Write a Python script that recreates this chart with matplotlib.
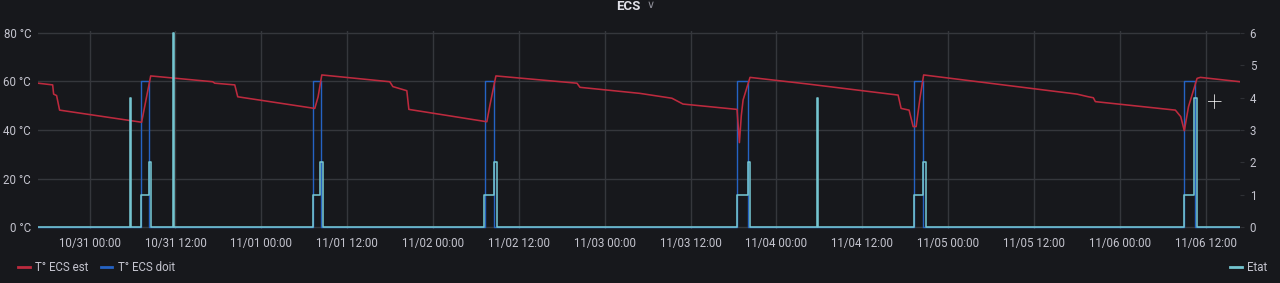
import pandas as pd
import matplotlib
matplotlib.use("Agg")
import matplotlib.pyplot as plt
import matplotlib.dates as mdates
from matplotlib.lines import Line2D

YEAR = "2022/"

# T° ECS est (measured temperature, °C)
est_times = ["10/30 16:47", "10/30 18:50", "10/30 18:58", "10/30 19:23", "10/30 19:48",
             "10/31 07:16", "10/31 07:33", "10/31 08:32", "10/31 17:12", "10/31 17:29",
             "10/31 20:17", "10/31 20:42", "11/01 07:28", "11/01 07:56", "11/01 08:27",
             "11/01 17:57", "11/01 18:23", "11/01 20:20", "11/01 20:37", "11/02 07:31",
             "11/02 07:57", "11/02 08:47", "11/02 20:07", "11/02 20:32", "11/03 04:55",
             "11/03 09:23", "11/03 10:56", "11/03 18:29", "11/03 18:49", "11/03 19:05",
             "11/03 19:20", "11/03 20:18", "11/04 04:17", "11/04 17:00", "11/04 17:25",
             "11/04 18:32", "11/04 19:06", "11/04 19:31", "11/04 20:05", "11/04 20:34",
             "11/05 18:00", "11/05 19:35", "11/05 20:17", "11/05 20:34", "11/06 07:45",
             "11/06 08:30", "11/06 09:00", "11/06 09:35", "11/06 10:47", "11/06 11:15",
             "11/06 16:47"]
est_values = [59.3, 58.6, 54.8, 54.2, 48.2,
              43.2, 47.5, 62.3, 59.9, 59.3,
              58.6, 53.7, 48.9, 53.7, 62.7,
              59.9, 57.9, 56.2, 48.5, 43.4,
              50.3, 62.3, 59.3, 57.6, 55.1,
              53.1, 50.7, 48.5, 34.8, 46.0,
              52.4, 61.7, 59.0, 54.4, 48.9,
              48.2, 41.4, 41.4, 53.7, 62.7,
              54.8, 53.7, 53.3, 51.7, 48.2,
              45.5, 39.7, 49.6, 61.3, 61.7,
              59.9]

# T° ECS doit (setpoint, °C)
doit_times = ["10/30 16:47", "10/31 07:12", "10/31 08:19", "11/01 07:09", "11/01 08:24",
              "11/02 07:15", "11/02 08:30", "11/03 18:32", "11/03 20:04", "11/04 19:09",
              "11/04 20:28", "11/06 08:55", "11/06 10:27", "11/06 16:47"]
doit_values = [0, 60, 0, 60, 0, 60, 0, 60, 0, 60, 0, 60, 0, 0]

# Etat (state, right axis)
etat_times = ["10/30 16:47", "10/31 05:40", "10/31 05:50", "10/31 07:10", "10/31 08:15",
              "10/31 08:34", "10/31 11:42", "10/31 11:50", "11/01 07:09", "11/01 08:16",
              "11/01 08:38", "11/02 07:09", "11/02 08:30", "11/02 08:53", "11/03 18:32",
              "11/03 20:02", "11/03 20:18", "11/04 05:40", "11/04 05:48", "11/04 19:09",
              "11/04 20:25", "11/04 20:53", "11/06 08:55", "11/06 10:20", "11/06 10:49",
              "11/06 16:47"]
etat_values = [0, 4, 0, 1, 2, 0, 6, 0, 1, 2, 0, 1, 2, 0, 1, 2, 0, 4, 0, 1, 2, 0, 1, 4, 0, 0]

temp_ticks = [0, 20, 40, 60, 80]
etat_ticks = [0, 1, 2, 3, 4, 5, 6]


def to_dt(times):
    return pd.to_datetime([YEAR + t for t in times], format="%Y/%m/%d %H:%M")


BG = "#17181c"
GRID = "#35373c"
TXT = "#c4c4ce"
RED = "#bd2a3e"
BLUE = "#2563c4"
CYAN = "#74c5d0"

plt.rcParams["font.family"] = ["Roboto", "DejaVu Sans"]

fig = plt.figure(figsize=(12.8, 2.83), dpi=100, facecolor=BG)
ax = fig.add_axes([38 / 1280, 54 / 283, 1202 / 1280, 198 / 283])
ax.set_facecolor(BG)
ax2 = ax.twinx()

pad_t = 2 * 80 / 194
pad_e = 2 * 6 / 194

ax.plot(to_dt(est_times), est_values, color=RED, lw=1.15, zorder=3)
ax.plot(to_dt(doit_times), doit_values, color=BLUE, lw=1.0, drawstyle="steps-post", zorder=2)
ax2.plot(to_dt(etat_times), etat_values, color=CYAN, lw=1.15, drawstyle="steps-post")

ax.set_ylim(-pad_t, 80 + pad_t)
ax2.set_ylim(-pad_e, 6 + pad_e)
ax.set_xlim(pd.Timestamp("2022-10-30 16:47"), pd.Timestamp("2022-11-06 16:47"))

ax.set_yticks(temp_ticks)
ax.set_yticklabels([f"{v} °C" for v in temp_ticks])
ax2.set_yticks(etat_ticks)

ax.xaxis.set_major_locator(mdates.HourLocator(byhour=[0, 12]))
ax.xaxis.set_major_formatter(mdates.DateFormatter("%m/%d %H:%M"))

ax.grid(True, color=GRID, lw=1)
for a in (ax, ax2):
    for s in a.spines.values():
        s.set_visible(False)
ax.tick_params(axis="both", length=0, colors=TXT, labelsize=8.3)
ax.tick_params(axis="y", pad=5)
ax.tick_params(axis="x", pad=6)
ax2.tick_params(axis="y", length=3, color="#2e3035", colors=TXT, labelsize=8.3, pad=4)

# title
fig.text(0.4905, 1.0, "ECS", ha="center", va="top", color="#e0e0e8",
         fontsize=9.5, fontweight="bold")
fig.text(0.5085, 1.0, "∨", ha="center", va="top", color="#8e8e98", fontsize=8)

# legends
h_est = Line2D([], [], color=RED, lw=2)
h_doit = Line2D([], [], color=BLUE, lw=2)
h_etat = Line2D([], [], color=CYAN, lw=2)
fig.legend([h_est, h_doit], ["T° ECS est", "T° ECS doit"], loc="center left",
           bbox_to_anchor=(0.006, 0.055), ncol=2, frameon=False, fontsize=8.3,
           labelcolor=TXT, handlelength=1.0, handletextpad=0.45, columnspacing=1.1)
fig.legend([h_etat], ["Etat"], loc="center right", bbox_to_anchor=(0.998, 0.055),
           frameon=False, fontsize=8.3, labelcolor=TXT, handlelength=1.0, handletextpad=0.45)

# mouse cursor in the screenshot
fig.text(1214 / 1280, 1 - 104 / 283, "+", ha="center", va="center", color="white",
         fontsize=20, fontweight="light")

fig.savefig("out.png", dpi=100, facecolor=BG)
